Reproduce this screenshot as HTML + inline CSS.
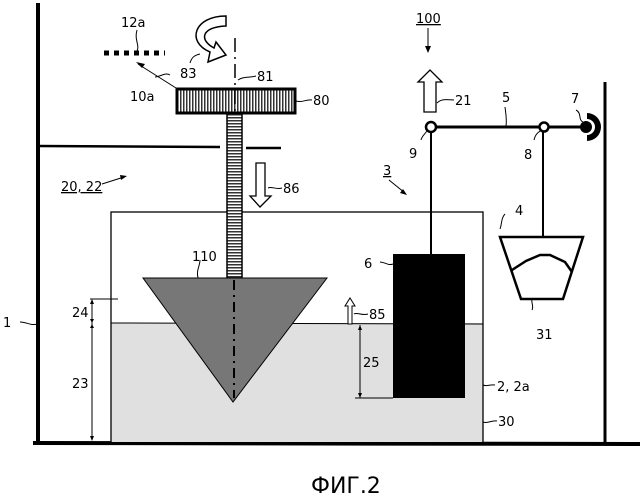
<!DOCTYPE html>
<html><head><meta charset="utf-8"><style>
html,body{margin:0;padding:0;background:#fff;}
svg{display:block;}
text{font-family:"DejaVu Sans","Liberation Sans",sans-serif;font-size:13px;fill:#000;}
</style></head><body>
<svg width="642" height="500" viewBox="0 0 642 500" xmlns="http://www.w3.org/2000/svg">
<defs>
<pattern id="vh" width="3" height="4" patternUnits="userSpaceOnUse"><rect width="3" height="4" fill="#fff"/><rect width="1.5" height="4" fill="#333"/></pattern>
<pattern id="hh" width="4" height="3" patternUnits="userSpaceOnUse"><rect width="4" height="3" fill="#fff"/><rect width="4" height="1.5" fill="#333"/></pattern>
</defs>
<!-- frame -->
<line x1="38" y1="3" x2="38" y2="444" stroke="#000" stroke-width="4"/>
<line x1="33" y1="443" x2="640" y2="444" stroke="#000" stroke-width="4"/>
<line x1="605" y1="82" x2="605" y2="444" stroke="#000" stroke-width="3"/>
<line x1="38" y1="146" x2="220" y2="147" stroke="#000" stroke-width="2.5"/>
<line x1="246" y1="148" x2="281" y2="148" stroke="#000" stroke-width="2.5"/>
<!-- vessel -->
<rect x="111" y="323" width="372" height="119" fill="#e0e0e0"/>
<rect x="111" y="212" width="372" height="231" fill="none" stroke="#000" stroke-width="1.3"/>
<line x1="111" y1="323" x2="483" y2="324" stroke="#000" stroke-width="1"/>
<!-- shaft & disk -->
<rect x="227" y="113" width="15" height="166" fill="url(#hh)" stroke="#000" stroke-width="1.5"/>
<rect x="177" y="89" width="118" height="24" fill="url(#vh)" stroke="#000" stroke-width="3"/>
<!-- cone -->
<polygon points="143,278 327,278 233,402" fill="#777" stroke="#000" stroke-width="1"/>
<line x1="234" y1="280" x2="234" y2="398" stroke="#000" stroke-width="2" stroke-dasharray="10,5,2,5"/>
<line x1="235" y1="38" x2="235" y2="112" stroke="#000" stroke-width="1.5" stroke-dasharray="14,5,2,5"/>
<!-- block 6 -->
<rect x="393" y="254" width="72" height="144" fill="#000"/>
<!-- lever -->
<line x1="431" y1="132" x2="431" y2="254" stroke="#000" stroke-width="2"/>
<line x1="431" y1="127" x2="586" y2="127" stroke="#000" stroke-width="3"/>
<circle cx="431" cy="127" r="5" fill="#fff" stroke="#000" stroke-width="2.5"/>
<line x1="543" y1="132" x2="543" y2="237" stroke="#000" stroke-width="2"/>
<circle cx="544" cy="127" r="4.5" fill="#fff" stroke="#000" stroke-width="2.5"/>
<circle cx="586" cy="127" r="6" fill="#000"/>
<path d="M587,113 A14,14 0 0 1 587,141 L587,135 A8,8 0 0 0 587,119 Z" fill="#000"/>
<!-- bucket -->
<polygon points="500,237 583,237 563,299 521,299" fill="#fff" stroke="#000" stroke-width="2.5"/>
<polyline points="512,270 526,261 540,255 550,255 565,262 572,272" fill="none" stroke="#000" stroke-width="2.5"/>
<!-- 12a dashes -->
<line x1="104" y1="53" x2="165" y2="53" stroke="#000" stroke-width="5" stroke-dasharray="5,5"/>
<!-- 10a arrow -->
<line x1="176" y1="88" x2="138" y2="64" stroke="#000" stroke-width="1"/>
<polygon points="136,62 145,64 142,68" fill="#000"/>
<!-- curved arrow 83 -->
<path d="M226,16 C194,16 186,42 210,52 L208,62 L226,55 L216,42 L214,48 C199,40 201,27 226,26 Z" fill="#fff" stroke="#000" stroke-width="1.5"/>
<!-- arrow 21 -->
<polygon points="424,112 436,112 436,82 442,82 430,70 418,82 424,82" fill="#fff" stroke="#000" stroke-width="1.3"/>
<!-- 100 -->
<line x1="428" y1="28" x2="428" y2="48" stroke="#000" stroke-width="1"/>
<polygon points="425,46 431,46 428,53" fill="#000"/>
<!-- 86 -->
<polygon points="256,163 265,163 265,196 271,196 260,207 250,196 256,196" fill="#fff" stroke="#000" stroke-width="1.3"/>
<!-- 85 -->
<polygon points="348,324 352,324 352,306 355,306 350,298 345,306 348,306" fill="#fff" stroke="#000" stroke-width="1"/>
<!-- 3 arrow -->
<line x1="389" y1="180" x2="405" y2="193" stroke="#000" stroke-width="1"/>
<polygon points="407,195 400,193 403,189" fill="#000"/>
<!-- 20,22 arrow -->
<line x1="102" y1="184" x2="124" y2="177" stroke="#000" stroke-width="1"/>
<polygon points="127,176 120,175 121,180" fill="#000"/>
<!-- dims -->
<line x1="90" y1="299" x2="118" y2="299" stroke="#000" stroke-width="1"/>
<line x1="92" y1="300" x2="92" y2="440" stroke="#000" stroke-width="1"/>
<polygon points="90,304 94,304 92,299" fill="#000"/>
<polygon points="90,319 94,319 92,323" fill="#000"/>
<polygon points="90,328 94,328 92,324" fill="#000"/>
<polygon points="90,436 94,436 92,441" fill="#000"/>
<line x1="360" y1="325" x2="360" y2="398" stroke="#000" stroke-width="1"/>
<line x1="355" y1="398" x2="393" y2="398" stroke="#000" stroke-width="1"/>
<polygon points="358,330 362,330 360,325" fill="#000"/>
<polygon points="358,393 362,393 360,398" fill="#000"/>
<!-- leader lines -->
<g fill="none" stroke="#000" stroke-width="1">
<path d="M137,30 C134,40 140,45 137,51"/>
<path d="M155,77 C160,77 165,72 170,75"/>
<path d="M190,63 C192,56 196,55 200,54"/>
<path d="M238,80 C244,76 250,78 256,76"/>
<path d="M296,101 C303,103 306,99 312,100"/>
<path d="M268,188 C272,186 276,190 282,188"/>
<path d="M437,103 C442,98 447,100 454,100"/>
<path d="M505,107 C506,115 507,120 506,126"/>
<path d="M576,110 C582,113 578,120 583,122"/>
<path d="M427,131 C424,135 422,136 421,140"/>
<path d="M540,131 C536,134 535,136 534,140"/>
<path d="M500,229 C502,224 501,218 505,214"/>
<path d="M532,299 C531,303 534,306 532,310"/>
<path d="M200,260 C200,266 196,270 198,278"/>
<path d="M380,262 C385,262 388,266 393,264"/>
<path d="M354,314 C357,312 362,316 368,314"/>
<path d="M483,385 C487,387 490,384 495,385"/>
<path d="M20,322 C27,322 30,326 38,324"/>
<path d="M483,422 C488,424 491,420 497,421"/>
</g>
<!-- labels -->
<text x="121" y="27">12a</text>
<text x="130" y="101">10a</text>
<text x="180" y="78">83</text>
<text x="257" y="81">81</text>
<text x="313" y="105">80</text>
<text x="283" y="193">86</text>
<text x="61" y="191" text-decoration="underline">20, 22</text>
<text x="416" y="23" text-decoration="underline">100</text>
<text x="455" y="105">21</text>
<text x="502" y="102">5</text>
<text x="571" y="103">7</text>
<text x="409" y="158">9</text>
<text x="524" y="159">8</text>
<text x="383" y="175" text-decoration="underline">3</text>
<text x="515" y="215">4</text>
<text x="192" y="261">110</text>
<text x="364" y="268">6</text>
<text x="369" y="319">85</text>
<text x="72" y="317">24</text>
<text x="72" y="388">23</text>
<text x="363" y="367">25</text>
<text x="497" y="391">2, 2a</text>
<text x="498" y="426">30</text>
<text x="536" y="339">31</text>
<text x="3" y="327">1</text>
<text x="311" y="493" style="font-size:22px">ФИГ.2</text>
</svg>
</body></html>
